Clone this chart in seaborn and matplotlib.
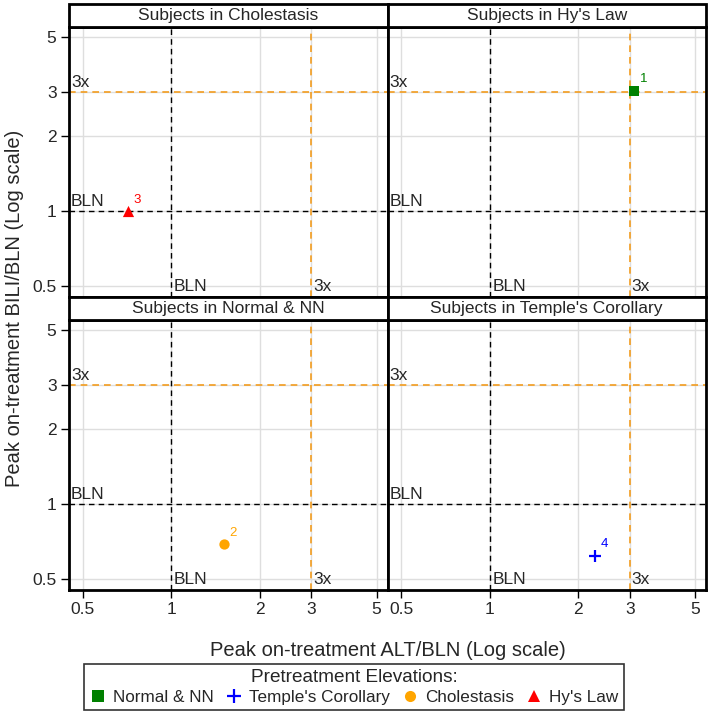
import matplotlib
matplotlib.use("Agg")
import matplotlib.pyplot as plt
import matplotlib.transforms as mtransforms
from matplotlib.patches import Rectangle
from matplotlib.lines import Line2D
from matplotlib.ticker import NullLocator
import seaborn as sns
import pandas as pd

# data
panels = ["Cholestasis", "Hy's Law", "Normal & NN", "Temple's Corollary"]
subject_ids = ["1", "2", "3", "4"]
peak_alt = [3.1, 1.51, 0.71, 2.28]
peak_bili = [3.05, 0.69, 1.0, 0.62]
on_treatment = ["Hy's Law", "Normal & NN", "Cholestasis", "Temple's Corollary"]
pretreatment = ["Normal & NN", "Cholestasis", "Hy's Law", "Temple's Corollary"]

legend_order = ["Normal & NN", "Temple's Corollary", "Cholestasis", "Hy's Law"]
group_colors = ["#008000", "#0000FF", "#FFA500", "#FF0000"]
group_markers = ["s", "+", "o", "^"]
marker_sizes = [55, 70, 55, 65]
tick_values = [0.5, 1, 2, 3, 5]
tick_labels = ["0.5", "1", "2", "3", "5"]

df = pd.DataFrame({"id": subject_ids, "alt": peak_alt, "bili": peak_bili,
                   "panel": on_treatment, "pre": pretreatment})

sns.set_style("white")
plt.rcParams["font.family"] = ["Liberation Sans", "DejaVu Sans"]

ref_orange = "#F39C1F"
strip_h = 23 / 270

g = sns.FacetGrid(df, col="panel", col_wrap=2, col_order=panels,
                  sharex=True, sharey=True, despine=False)
g.figure.set_size_inches(7.08, 7.12)
g.figure.set_dpi(100)
g.figure.subplots_adjust(left=69 / 708, right=706 / 708, top=1 - 27 / 712,
                         bottom=1 - 590 / 712, wspace=0, hspace=strip_h)

style = {grp: (c, m, s) for grp, c, m, s in
         zip(legend_order, group_colors, group_markers, marker_sizes)}

for i, name in enumerate(panels):
    ax = g.axes_dict[name]
    ax.set_title("")
    ax.set_xscale("log")
    ax.set_yscale("log")
    ax.set_xlim(0.448, 5.45)
    ax.set_ylim(0.452, 5.5)
    ax.set_xticks(tick_values)
    ax.set_yticks(tick_values)
    ax.set_xticklabels(tick_labels)
    ax.set_yticklabels(tick_labels)
    ax.xaxis.set_minor_locator(NullLocator())
    ax.yaxis.set_minor_locator(NullLocator())
    ax.grid(True, color="#dedede", lw=1)
    ax.set_axisbelow(True)
    ax.tick_params(axis="both", direction="out", length=6, width=1,
                   color="black", labelsize=12.5, pad=3)
    ax.tick_params(axis="x", bottom=(i >= 2), labelbottom=(i >= 2))
    ax.tick_params(axis="y", left=(i % 2 == 0), labelleft=(i % 2 == 0))
    for sp in ax.spines.values():
        sp.set_linewidth(2)
        sp.set_color("black")
    ax.set_xlabel("")
    ax.set_ylabel("")

    # reference lines
    dash = (0, (4, 3))
    ax.axvline(1, color="black", ls=dash, lw=1, zorder=1.5)
    ax.axhline(1, color="black", ls=dash, lw=1, zorder=1.5)
    ax.axvline(3, color=ref_orange, ls=dash, lw=1.2, zorder=1.5)
    ax.axhline(3, color=ref_orange, ls=dash, lw=1.2, zorder=1.5)
    ty = mtransforms.blended_transform_factory(ax.transAxes, ax.transData)
    tx = mtransforms.blended_transform_factory(ax.transData, ax.transAxes)
    ax.text(0.006, 1.02, "BLN", transform=ty, ha="left", va="bottom", fontsize=12.5)
    ax.text(0.006, 3.06, "3x", transform=ty, ha="left", va="bottom", fontsize=12.5)
    ax.text(1.02, 0.01, "BLN", transform=tx, ha="left", va="bottom", fontsize=12.5)
    ax.text(3.04, 0.01, "3x", transform=tx, ha="left", va="bottom", fontsize=12.5)

    # strip header
    ax.add_patch(Rectangle((0, 1), 1, strip_h, transform=ax.transAxes,
                           facecolor="white", edgecolor="black", lw=2,
                           clip_on=False, zorder=5))
    ax.text(0.5, 1 + strip_h / 2, "Subjects in " + name, transform=ax.transAxes,
            ha="center", va="center", fontsize=12.5, zorder=6)

    # points
    sub = df[df["panel"] == name]
    for _, row in sub.iterrows():
        c, m, s = style[row["pre"]]
        lw = 1.6 if m == "+" else 0
        sns.scatterplot(x=[row["alt"]], y=[row["bili"]], ax=ax, color=c,
                        marker=m, s=s, linewidth=lw, zorder=4, legend=False)
        ax.annotate(row["id"], (row["alt"], row["bili"]), xytext=(4, 4),
                    textcoords="offset points", color=c, fontsize=9.5,
                    ha="left", va="bottom")

g.figure.text(15 / 708, 1 - 308 / 712, "Peak on-treatment BILI/BLN (Log scale)",
              rotation=90, ha="center", va="center", fontsize=14.5)
g.figure.text(387.5 / 708, 1 - 650 / 712, "Peak on-treatment ALT/BLN (Log scale)",
              ha="center", va="center", fontsize=14.5)

handles = []
for grp in legend_order:
    c, m, s = style[grp]
    handles.append(Line2D([], [], ls="none", marker=m, color=c,
                          markersize=8 if m != "+" else 10,
                          markeredgewidth=1.6 if m == "+" else 0))
leg = g.figure.legend(handles, legend_order, loc="center",
                      bbox_to_anchor=(354 / 708, 1 - 687 / 712), ncol=4,
                      title="Pretreatment Elevations:", frameon=True,
                      fancybox=False, fontsize=12.3, title_fontsize=13.7,
                      handlelength=1.0, handletextpad=0.4, columnspacing=0.65,
                      borderpad=0.3, labelspacing=0.2, borderaxespad=0)
leg.get_frame().set_edgecolor("black")
leg.get_frame().set_linewidth(1.2)

g.figure.savefig("out.png", dpi=100)
